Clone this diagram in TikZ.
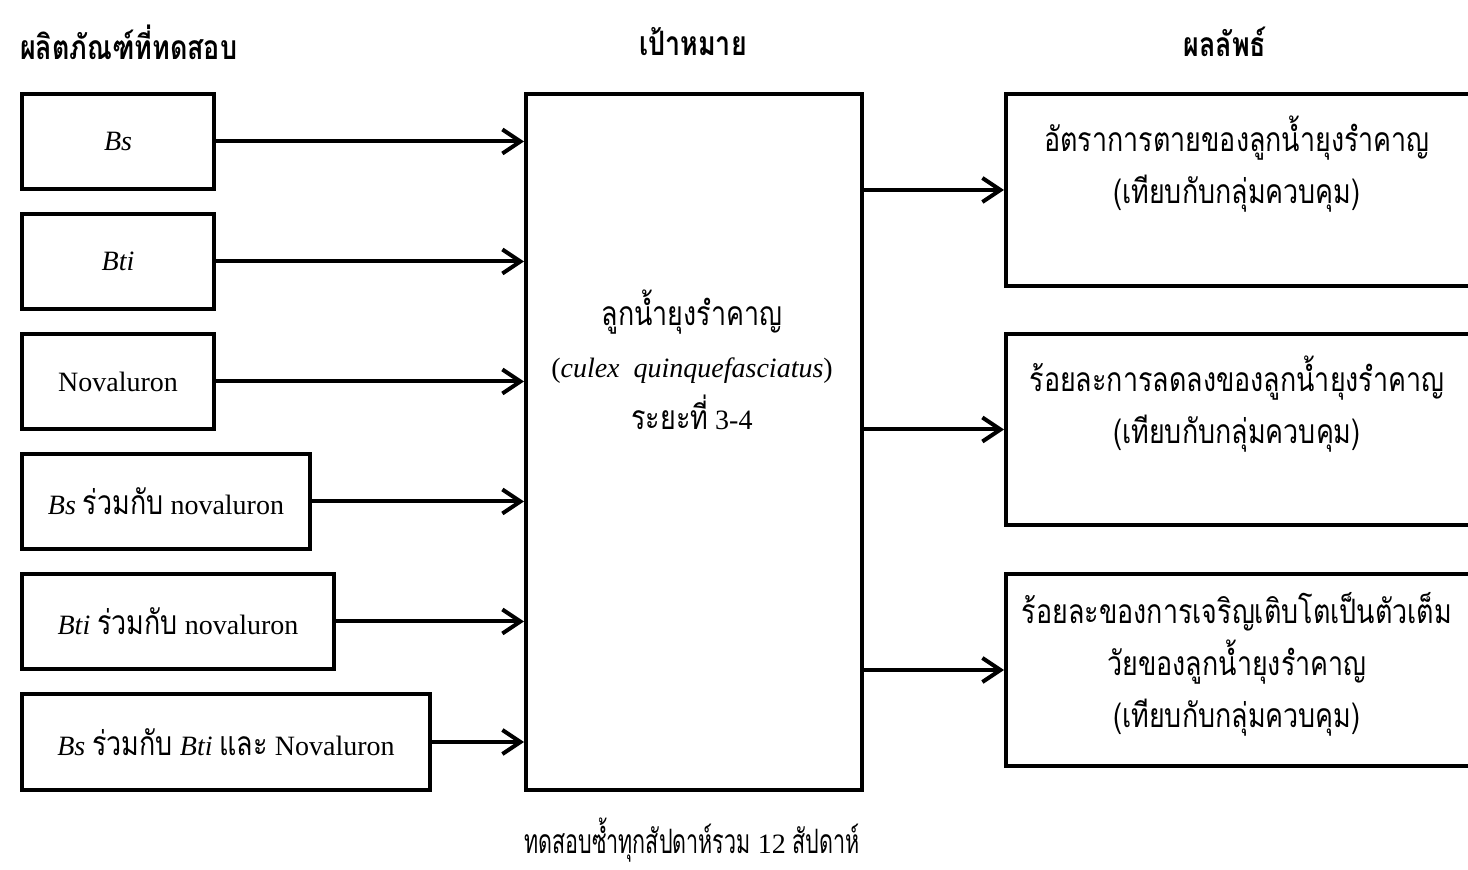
\documentclass[tikz,border=0pt]{standalone}
\usepackage{fontspec}
\setmainfont{Liberation Serif}
\newfontfamily\thai[Script=Thai,Scale=1.2,FakeStretch=0.8]{Loma}
\newfontfamily\thainote[Script=Thai,Scale=1.2,FakeStretch=0.64]{Loma}
\usetikzlibrary{arrows.meta}

\begin{document}
\begin{tikzpicture}[x=0.5pt,y=-0.5pt]
\tikzstyle{box}=[draw,line width=2pt,inner sep=0pt,anchor=north west]
\tikzstyle{arr}=[line width=2pt,-{Straight Barb[length=9pt,width=12pt]}]
\tikzstyle{txt}=[font=\fontsize{14}{26}\selectfont,align=center]
\tikzstyle{thaitxt}=[font=\fontsize{14}{26}\selectfont\thai,align=center]
\tikzstyle{head}=[font=\fontsize{14}{26}\selectfont\thai\bfseries]

\useasboundingbox (0,0) rectangle (1468,870);

% headings
\node [head,anchor=west] (hprod) at (13,42) {ผลิตภัณฑ์ที่ทดสอบ};
\node [head] (htarget) at (693,42) {เป้าหมาย};
\node [head] (hres) at (1225,42) {ผลลัพธ์};

% products
\node [box,txt,minimum width=96pt,minimum height=47.5pt] (p1) at (20,92) {\textit{Bs}};
\node [box,txt,minimum width=96pt,minimum height=47.5pt] (p2) at (20,212) {\textit{Bti}};
\node [box,txt,minimum width=96pt,minimum height=47.5pt] (p3) at (20,332) {Novaluron};
\node [box,txt,minimum width=144pt,minimum height=47.5pt] (p4) at (20,452) {\textit{Bs} {\thai ร่วมกับ} novaluron};
\node [box,txt,minimum width=156pt,minimum height=47.5pt] (p5) at (20,572) {\textit{Bti} {\thai ร่วมกับ} novaluron};
\node [box,txt,minimum width=204pt,minimum height=48pt] (p6) at (20,692) {\textit{Bs} {\thai ร่วมกับ} \textit{Bti} {\thai และ} Novaluron};

% target
\node [box,minimum width=168pt,minimum height=348pt] (target) at (524,92) {};
\node [txt] (ttext) at (692,360) {{\thai ลูกน้ำยุงรำคาญ}\\(\textit{culex\ \ quinquefasciatus})\\{\thai ระยะที่} 3-4};

% results
\node [box,minimum width=235pt,minimum height=96pt] (r1) at (1004,92) {};
\node [box,minimum width=235pt,minimum height=95.5pt] (r2) at (1004,332) {};
\node [box,minimum width=235pt,minimum height=96pt] (r3) at (1004,572) {};
\node [thaitxt] (r1text) at (1237,164) {อัตราการตายของลูกน้ำยุงรำคาญ\\(เทียบกับกลุ่มควบคุม)};
\node [thaitxt] (r2text) at (1237,404) {ร้อยละการลดลงของลูกน้ำยุงรำคาญ\\(เทียบกับกลุ่มควบคุม)};
\node [thaitxt] (r3text) at (1237,664) {ร้อยละของการเจริญเติบโตเป็นตัวเต็ม\\วัยของลูกน้ำยุงรำคาญ\\(เทียบกับกลุ่มควบคุม)};

\foreach \p in {p1,p2,p3,p4,p5,p6}
  \draw [arr] (\p.east) -- (\p.east -| target.west);
\foreach \r in {r1,r2,r3}
  \draw [arr] (target.east |- \r.west) -- (\r.west);

\node [txt] (note) at (692,840) {{\thainote ทดสอบซ้ำทุกสัปดาห์รวม} 12 {\thainote สัปดาห์}};

\end{tikzpicture}
\end{document}
